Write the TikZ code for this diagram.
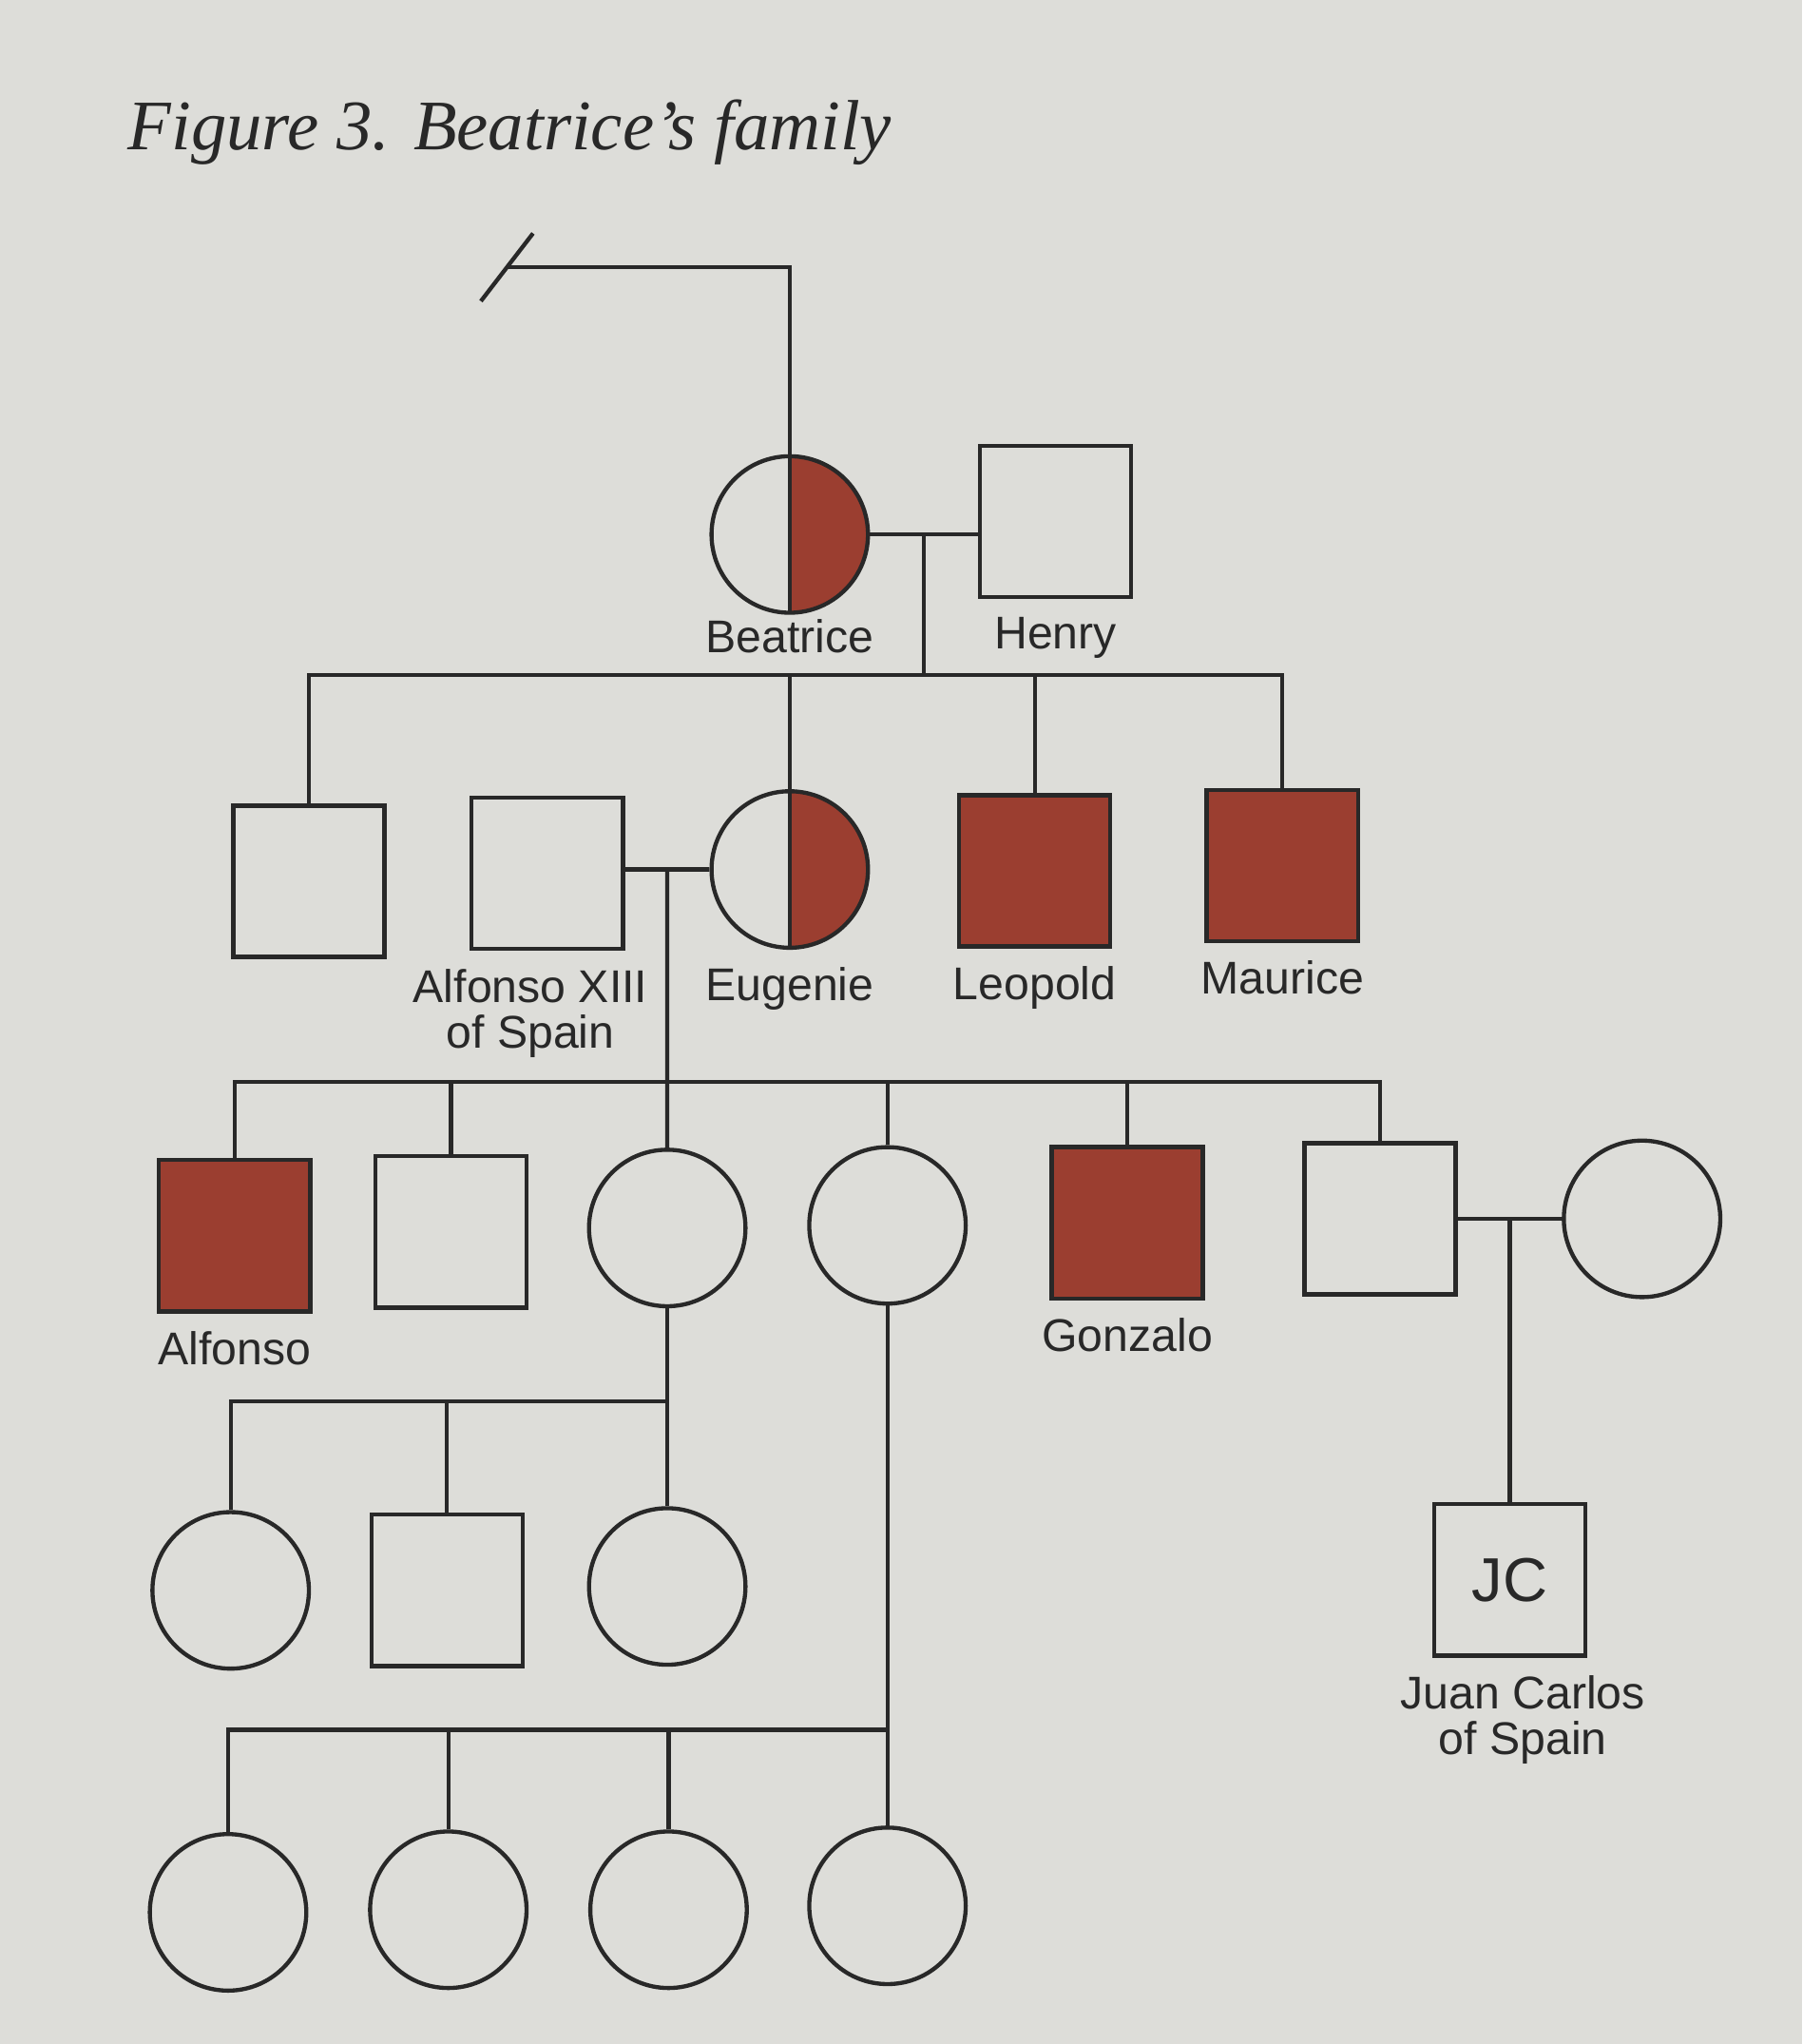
\documentclass[tikz,border=0pt]{standalone}
\usepackage{fontspec}
\setmainfont{Liberation Serif}
\setsansfont{Liberation Sans}
\definecolor{affected}{RGB}{155,62,48}
\definecolor{paper}{RGB}{221,221,217}
\definecolor{ink}{RGB}{40,40,40}

\tikzset{
  person/.style={draw, inner sep=0pt, line width=0.9pt},
  male/.style={person, rectangle, minimum size=1.16cm},
  female/.style={person, circle, minimum size=1.2cm},
  affectedbox/.style={male, fill=affected},
  carrier/.style={female, path picture={
      \fill[affected] (path picture bounding box.north) rectangle (path picture bounding box.south east);
      \draw[line width=0.9pt] (path picture bounding box.north) -- (path picture bounding box.south);}},
  lbl/.style={font=\sffamily\fontsize{10}{10}\selectfont, align=center, inner sep=0pt},
}

\begin{document}
\begin{tikzpicture}[x=0.01cm, y=-0.01cm, line width=0.9pt, color=ink, label distance=0.12cm]
  \fill[paper] (0,0) rectangle (1383,1568);
  \node[anchor=base west, font=\itshape\fontsize{15.5}{18}\selectfont] (title) at (85,115) {Figure 3. Beatrice's family};

  % generation I
  \node[carrier, label={[lbl,yshift=0.1cm]below:Beatrice}] (beatrice) at (606,410) {};
  \node[male, label={[lbl]below:Henry}] (henry) at (810,400) {};
  \coordinate (stub) at (389,205);
  \draw (beatrice.north) |- (stub);
  \draw (stub) ++(-20,26) -- ++(40,-52);
  \draw (beatrice.east) -- coordinate (m1) (beatrice.east -| henry.west);

  % generation II
  \node[male] (u1) at (237,676) {};
  \node[male, label={[lbl,xshift=-0.13cm]below:Alfonso XIII\\of Spain}] (alfonsoxiii) at (420,670) {};
  \node[carrier, label={[lbl]below:Eugenie}] (eugenie) at (606,667) {};
  \node[affectedbox, label={[lbl]below:Leopold}] (leopold) at (794,668) {};
  \node[affectedbox, label={[lbl]below:Maurice}] (maurice) at (984,664) {};
  \coordinate (s1) at (706,518);
  \draw (m1) -- (m1 |- s1);
  \draw (u1.north) |- (maurice.north |- s1) -- (maurice.north);
  \foreach \k in {eugenie,leopold}
    \draw (\k.north) -- (\k.north |- s1);
  \draw (alfonsoxiii.east |- eugenie.west) -- coordinate (m2) (eugenie.west);

  % generation III
  \node[affectedbox, label={[lbl]below:Alfonso}] (alfonso) at (180,948) {};
  \node[male] (son2) at (346,945) {};
  \node[female] (dau1) at (512,942) {};
  \node[female] (dau2) at (681,940) {};
  \node[affectedbox, label={[lbl]below:Gonzalo}] (gonzalo) at (865,938) {};
  \node[male] (son3) at (1059,935) {};
  \node[female] (wife) at (1260,935) {};
  \coordinate (s2) at (512,830);
  \draw (m2) -- (dau1.north);
  \draw (alfonso.north) |- (son3.north |- s2) -- (son3.north);
  \foreach \k in {son2,dau2,gonzalo}
    \draw (\k.north) -- (\k.north |- s2);
  \draw (son3.east) -- coordinate (m3) (wife.west);
  \node[male, font=\sffamily\fontsize{13.5}{14}\selectfont,
    label={[lbl,xshift=0.1cm]below:Juan Carlos\\of Spain}] (jc) at (m3 |- 0,1212) {JC};
  \draw (m3) -- (jc.north);

  % generation IV
  \node[female] (g4a) at (177,1220) {};
  \node[male] (g4b) at (343,1220) {};
  \node[female] (g4c) at (512,1217) {};
  \coordinate (s3) at (512,1075);
  \draw (dau1.south) -- (g4c.north);
  \draw (g4a.north) |- (s3);
  \draw (g4b.north) -- (g4b.north |- s3);

  % generation V
  \node[female] (g5a) at (175,1467) {};
  \node[female] (g5b) at (344,1465) {};
  \node[female] (g5c) at (513,1465) {};
  \node[female] (g5d) at (681,1462) {};
  \coordinate (s4) at (681,1327);
  \draw (dau2.south) -- (g5d.north);
  \draw (g5a.north) |- (s4);
  \foreach \k in {g5b,g5c}
    \draw (\k.north) -- (\k.north |- s4);
\end{tikzpicture}
\end{document}
